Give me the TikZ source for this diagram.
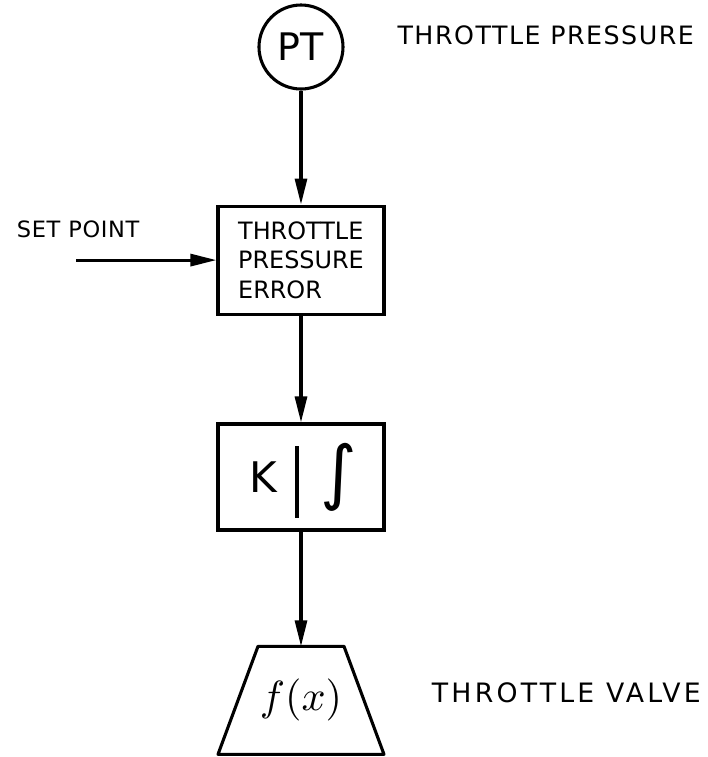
\documentclass[tikz,border=0pt]{standalone}
\usepackage{fontspec}
\setsansfont{DejaVu Sans}
\usepackage{tikz}
\usetikzlibrary{shapes.geometric, arrows.meta, positioning}
\tikzset{
  blk/.style={draw, line width=2.2pt, minimum width=4.15cm, align=left,
              font=\sffamily\fontsize{17}{21}\selectfont},
  lbl/.style={font=\sffamily\fontsize{18}{21}\selectfont\addfontfeatures{LetterSpace=6}},
  arr/.style={-{Triangle[length=6.5mm,width=3mm]}, line width=2.2pt}
}

\begin{document}
\begin{tikzpicture}
  \useasboundingbox (-7.525,1.175) rectangle (10.175,-17.75);
  \node[circle, draw, line width=2.2pt, minimum size=2.1cm,
        font=\sffamily\fontsize{27}{30}\selectfont] (pt) at (0,0) {PT};
  \node[blk, minimum height=2.7cm, below=2.85cm of pt] (err) {THROTTLE\\PRESSURE\\ERROR};
  \node[blk, minimum height=2.65cm, below=2.67cm of err] (ctl) {};
  \node[minimum width=4.15cm, minimum height=2.7cm, outer sep=0pt, below=2.87cm of ctl] (fx) {\scalebox{3}{$f(x)$}};
  \draw[line width=2.2pt, line join=round] (fx.south west) -- ([xshift=1.0cm]fx.north west)
     -- ([xshift=-1.0cm]fx.north east) -- (fx.south east) -- cycle;
  % inside the controller block
  \node[font=\sffamily\fontsize{30}{34}\selectfont] (kgain) at ([xshift=-0.95cm]ctl.center) {K};
  \node[font=\sffamily\fontsize{50}{56}\selectfont] (integ) at ([xshift=0.95cm]ctl.center) {∫};
  \draw[line width=2.2pt] ([xshift=-0.1cm,yshift=-0.6cm]ctl.north) -- ([xshift=-0.1cm,yshift=0.35cm]ctl.south);
  % labels
  \node[lbl, right=1.2cm of pt, yshift=0.3cm] (ptlbl) {THROTTLE PRESSURE};
  \node[lbl, left=1.8cm of err.west, yshift=0.76cm, font=\sffamily\fontsize{16}{19}\selectfont\addfontfeatures{LetterSpace=3}] (splbl) {SET POINT};
  \node[lbl, right=3.15cm of fx.center, yshift=0.18cm, font=\sffamily\fontsize{19}{23}\selectfont\addfontfeatures{LetterSpace=12}] (vlbl) {THROTTLE VALVE};
  \coordinate[left=3.5cm of err.west] (spin);
  % signal flow
  \draw[arr] (pt) -- (err);
  \draw[arr] (spin) -- (err.west);
  \draw[arr] (err) -- (ctl);
  \draw[arr] (ctl) -- (fx.north);
\end{tikzpicture}
\end{document}
